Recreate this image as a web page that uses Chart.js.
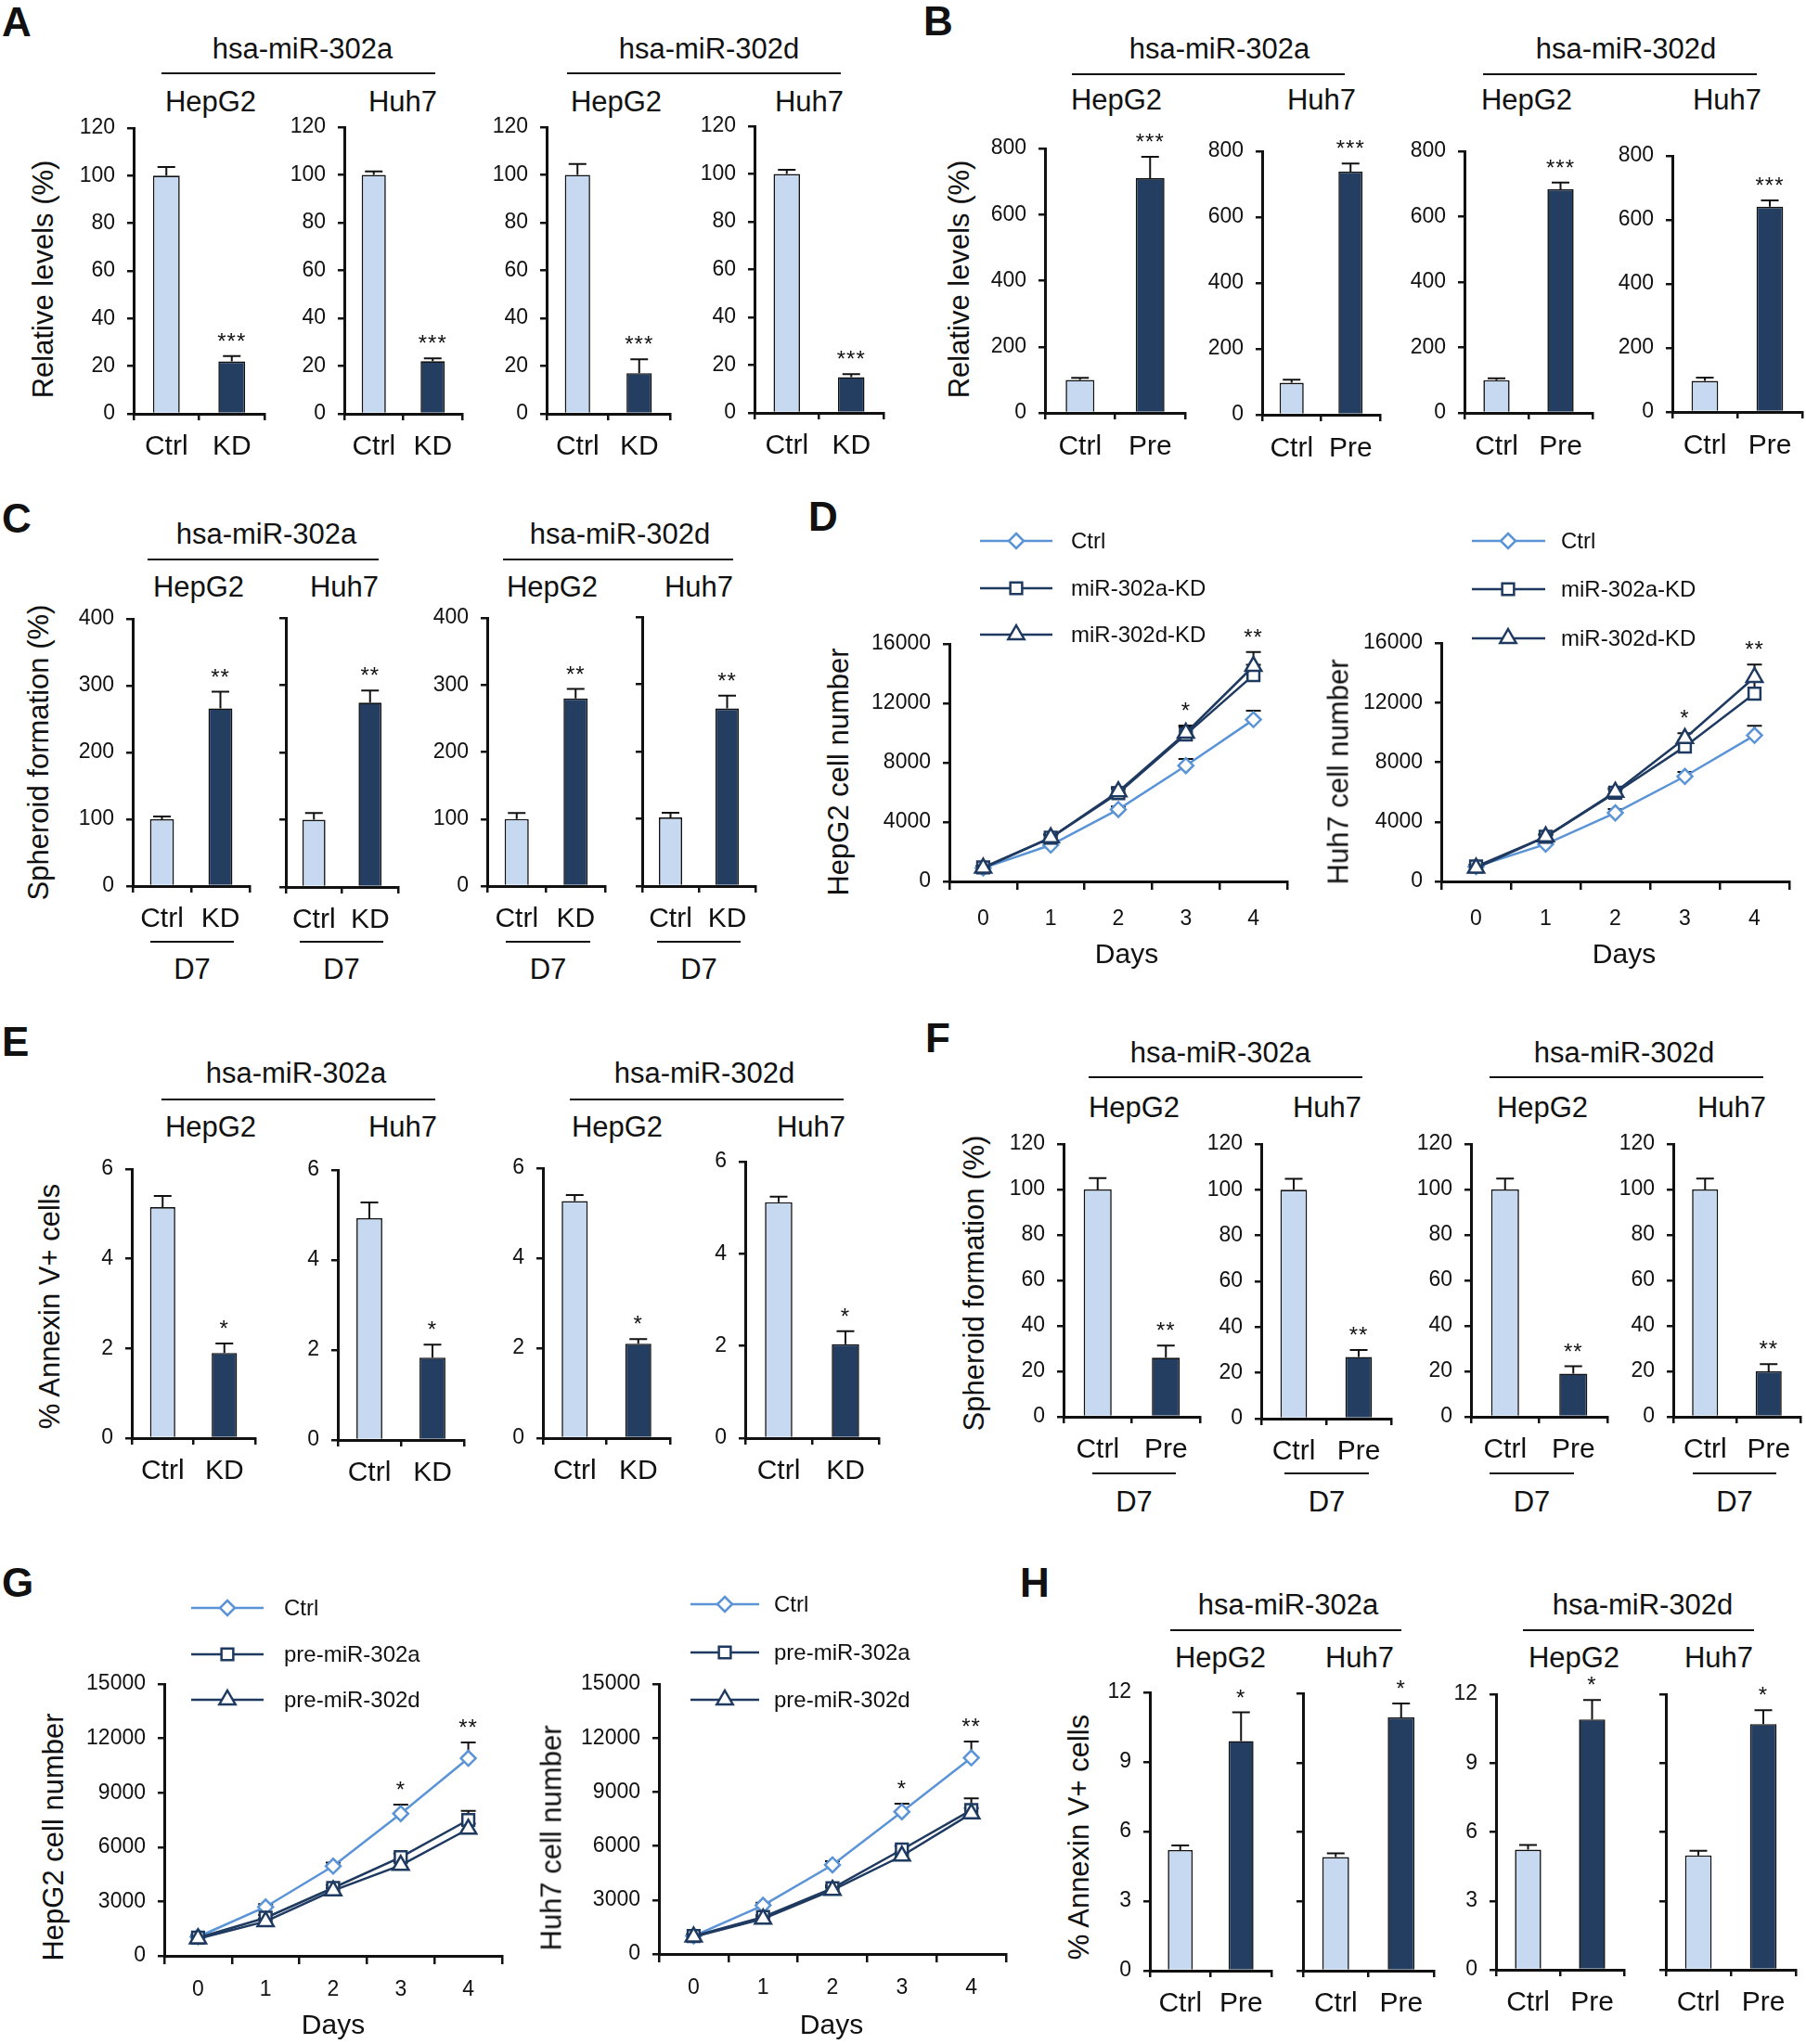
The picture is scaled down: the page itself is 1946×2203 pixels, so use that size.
<!DOCTYPE html>
<html>
<head>
<meta charset="utf-8">
<script src="https://cdn.jsdelivr.net/npm/chart.js@4.4.1/dist/chart.umd.min.js"></script>
<style>
  body { margin: 0; background: #fff; }
  #fig { position: relative; width: 1946px; height: 2203px; font-family: 'Liberation Sans', Arial, sans-serif; color: #111; overflow: hidden; }
  #fig div { position: absolute; white-space: nowrap; line-height: 1; }
  #fig canvas { position: absolute; }
</style>
</head>
<body>
<div id="fig"></div>
<script>
// ---- data ----
const kdLabels = ['Ctrl', 'KD'];
const preLabels = ['Ctrl', 'Pre'];
const dayLabels = ['0', '1', '2', '3', '4'];
const kdSeries = ['Ctrl', 'miR-302a-KD', 'miR-302d-KD'];
const preSeries = ['Ctrl', 'pre-miR-302a', 'pre-miR-302d'];

// bar panels, one [Ctrl, treated] pair per chart:
// 302a HepG2, 302a Huh7, 302d HepG2, 302d Huh7
const aMean = [[100, 22], [100, 22], [100, 17], [100, 15]];
const aErr = [[3.6, 2.3], [1.5, 1.2], [4.6, 5.8], [1.7, 1.2]];
const bMean = [[100, 710], [97, 738], [100, 684], [97, 641]];
const bErr = [[6, 65], [9, 25], [6, 20], [10, 20]];
const cMean = [[100, 266], [100, 274], [100, 280], [102, 264]];
const cErr = [[4, 25], [10, 18], [9, 14], [7, 19]];
const eMean = [[5.15, 1.9], [4.93, 1.83], [5.27, 2.1], [5.12, 2.04]];
const eErr = [[0.25, 0.21], [0.35, 0.29], [0.13, 0.1], [0.12, 0.28]];
const fMean = [[100, 26], [100, 27], [100, 19], [100, 20]];
const fErr = [[5, 5.3], [4.8, 3], [4.8, 3.2], [4.8, 3.2]];
const hMean = [[5.2, 9.9], [4.92, 10.96], [5.23, 10.9], [4.98, 10.7]];
const hErr = [[0.2, 1.24], [0.16, 0.6], [0.2, 0.85], [0.2, 0.6]];

// growth curves (cell number by day)
const dHep = [[900, 2450, 4850, 7800, 10900], [950, 2950, 5950, 9900, 13900], [900, 2950, 6050, 10000, 14500]];
const dHepErr = [[100, 150, 200, 450, 600], [100, 200, 300, 500, 700], [100, 200, 300, 500, 950]];
const dHuh = [[1000, 2500, 4600, 7050, 9800], [1000, 3000, 5950, 9050, 12600], [900, 3000, 6000, 9600, 13700]];
const dHuhErr = [[100, 150, 250, 300, 650], [100, 150, 250, 400, 800], [100, 150, 250, 350, 850]];
const gHep = [[1050, 2700, 4950, 7850, 10900], [1000, 2100, 3750, 5450, 7500], [950, 1900, 3600, 5000, 7000]];
const gHepErr = [[100, 150, 200, 500, 870], [100, 150, 150, 200, 500], [100, 150, 150, 200, 300]];
const gHuh = [[1000, 2700, 4950, 7900, 10900], [1000, 2050, 3650, 5800, 8000], [950, 1950, 3550, 5450, 7800]];
const gHuhErr = [[100, 150, 200, 450, 900], [100, 100, 150, 200, 650], [100, 100, 150, 200, 300]];

// ---- layout (page pixels: y axis x, x axis end, top of y axis, zero line) ----
const layA = [{x0:144,x1:285,y0:138,yb:446},{x0:371,x1:498,y0:137,yb:446},{x0:589,x1:722,y0:137,yb:446},{x0:813,x1:952,y0:136,yb:445}];
const layB = [{x0:1126,x1:1277,y0:160,yb:445},{x0:1360,x1:1487,y0:163,yb:447},{x0:1578,x1:1716,y0:163,yb:445},{x0:1802,x1:1942,y0:168,yb:444}];
const layC = [{x0:143,x1:269,y0:667,yb:955},{x0:308,x1:429,y0:666,yb:956,bare:true},{x0:525,x1:652,y0:666,yb:955},{x0:692,x1:814,y0:665,yb:955,bare:true}];
const layE = [{x0:142,x1:275,y0:1260,yb:1550},{x0:364,x1:500,y0:1261,yb:1552},{x0:585,x1:722,y0:1259,yb:1550},{x0:803,x1:947,y0:1252,yb:1550}];
const layF = [{x0:1146,x1:1293,y0:1233,yb:1527},{x0:1359,x1:1499,y0:1233,yb:1529},{x0:1585,x1:1732,y0:1233,yb:1527},{x0:1803,x1:1940,y0:1233,yb:1527}];
const layH = [{x0:1239,x1:1370,y0:1824,yb:2124},{x0:1404,x1:1545,y0:1825,yb:2124,bare:true},{x0:1612,x1:1750,y0:1826,yb:2123},{x0:1795,x1:1935,y0:1826,yb:2123,bare:true}];
const layD = [
  {x0:1023,x1:1387,y0:694,yb:950,xPad:18,leg:{l0:1056,l1:1134,m:1095,t:1154,rows:[583,634,684]}},
  {x0:1553,x1:1928,y0:693,yb:950,xPad:18,leg:{l0:1586,l1:1665,m:1625,t:1682,rows:[583,635,688]}}];
const layG = [
  {x0:177,x1:541,y0:1815,yb:2108,xPad:14,leg:{l0:206,l1:284,m:245,t:306,rows:[1733,1783,1832]}},
  {x0:710,x1:1084,y0:1815,yb:2106,xPad:14,leg:{l0:744,l1:818,m:781,t:834,rows:[1729,1781,1832]}}];

const LIGHT = '#c6d9f0', DARK = '#243e62', CTRL_LINE = '#5b94d6', KD_LINE = '#1f3a60';
const YW = 100, XH = 70, PR = 14, PT_BAR = 70, PT_LINE = 150;
Chart.defaults.font.family = "'Liberation Sans', Arial, sans-serif";

const fig = document.getElementById('fig');

function txt(s, x, base, size, align = 'center', bold = false) {
  const d = document.createElement('div');
  d.textContent = s;
  const tx = align === 'center' ? '-50%' : align === 'right' ? '-100%' : '0';
  d.style.cssText = `left:${x}px;top:${(base - 0.847 * size).toFixed(1)}px;font-size:${size}px;font-weight:${bold ? 700 : 400};transform:translateX(${tx})`;
  fig.appendChild(d);
}
function vtxt(s, cx, cy, size) {
  const d = document.createElement('div');
  d.textContent = s;
  d.style.cssText = `left:${cx}px;top:${cy}px;font-size:${size}px;transform:translate(-50%,-50%) rotate(-90deg)`;
  fig.appendChild(d);
}
function hline(x1, x2, y, w = 2) {
  const d = document.createElement('div');
  d.style.cssText = `left:${x1}px;top:${y - w / 2}px;width:${x2 - x1}px;height:${w}px;background:#111`;
  fig.appendChild(d);
}
function makeCanvas(left, top, w, h) {
  const cv = document.createElement('canvas');
  cv.width = w; cv.height = h;
  cv.style.cssText = `left:${left}px;top:${top}px;width:${w}px;height:${h}px`;
  fig.appendChild(cv);
  return cv;
}

// upward error bars and significance stars
function errorBarPlugin(cap, stars) {
  return {
    id: 'errorBars',
    beforeDatasetsDraw(chart) {
      const ctx = chart.ctx, y = chart.scales.y, tops = [];
      ctx.save();
      ctx.strokeStyle = '#111';
      ctx.lineWidth = 2;
      chart.data.datasets.forEach((ds, di) => {
        const meta = chart.getDatasetMeta(di);
        ds.data.forEach((v, i) => {
          const px = meta.data[i].x, py = y.getPixelForValue(v), pt = y.getPixelForValue(v + ds.errors[i]);
          tops[i] = Math.min(tops[i] === undefined ? Infinity : tops[i], pt);
          ctx.beginPath();
          ctx.moveTo(px, py); ctx.lineTo(px, pt);
          ctx.moveTo(px - cap, pt); ctx.lineTo(px + cap, pt);
          ctx.stroke();
        });
      });
      ctx.fillStyle = '#111';
      ctx.font = "24px 'Liberation Sans', Arial";
      ctx.textAlign = 'center';
      ctx.textBaseline = 'middle';
      if ('letterSpacing' in ctx) ctx.letterSpacing = '1px';
      const m0 = chart.getDatasetMeta(0);
      stars.forEach(s => ctx.fillText(s.text, m0.data[s.i].x, tops[s.i] - 14.5));
      ctx.restore();
    }
  };
}

function marker(ctx, style, x, y, r) {
  ctx.beginPath();
  if (style === 'rectRot') {
    ctx.moveTo(x, y - r); ctx.lineTo(x + r, y); ctx.lineTo(x, y + r); ctx.lineTo(x - r, y); ctx.closePath();
  } else if (style === 'rect') {
    const s = r * Math.SQRT1_2;
    ctx.rect(x - s, y - s, 2 * s, 2 * s);
  } else {
    ctx.moveTo(x, y - r); ctx.lineTo(x + 0.866 * r, y + 0.5 * r); ctx.lineTo(x - 0.866 * r, y + 0.5 * r); ctx.closePath();
  }
  ctx.fill(); ctx.stroke();
}

function legendPlugin(leg, ox, oy) {
  return {
    id: 'lineLegend',
    afterDraw(chart) {
      const ctx = chart.ctx;
      ctx.save();
      chart.data.datasets.forEach((ds, k) => {
        const yy = leg.rows[k] - oy;
        ctx.strokeStyle = ds.borderColor;
        ctx.lineWidth = ds.borderWidth;
        ctx.beginPath();
        ctx.moveTo(leg.l0 - ox, yy); ctx.lineTo(leg.l1 - ox, yy);
        ctx.stroke();
        ctx.fillStyle = '#fff';
        ctx.lineWidth = ds.pointBorderWidth;
        marker(ctx, ds.pointStyle, leg.m - ox, yy, ds.pointRadius);
      });
      ctx.restore();
    }
  };
}

function xScale(size, tick, pad) {
  return {
    offset: true,
    grid: { display: true, drawOnChartArea: false, offset: true, tickLength: tick, color: '#111', lineWidth: 2.5 },
    border: { display: true, color: '#111', width: 3 },
    ticks: { color: '#111', font: { size }, padding: pad, maxRotation: 0, autoSkip: false },
    afterFit(s) { s.height = XH; }
  };
}
function yScale(max, step, bare, size) {
  return {
    min: 0, max,
    grid: { drawOnChartArea: false, tickLength: 7, color: '#111', lineWidth: 2.5 },
    border: { display: true, color: '#111', width: 3 },
    ticks: { stepSize: step, color: '#111', font: { size }, padding: 13, callback: v => bare ? '' : String(v) },
    afterFit(s) { s.width = YW; }
  };
}

function barChart(b, labels, mean, err, star, max, step, xPad) {
  const W = YW + (b.x1 - b.x0) + PR, H = PT_BAR + (b.yb - b.y0) + XH;
  const cv = makeCanvas(b.x0 - YW, b.y0 - PT_BAR, W, H);
  new Chart(cv, {
    type: 'bar',
    data: {
      labels,
      datasets: [{ data: mean, errors: err, backgroundColor: [LIGHT, DARK], borderColor: '#111',
        borderWidth: 1.6, barPercentage: 0.41, categoryPercentage: 1 }]
    },
    options: {
      responsive: false, animation: false, events: [],
      layout: { padding: { top: PT_BAR, right: PR, bottom: 0, left: 0 } },
      plugins: { legend: { display: false }, tooltip: { enabled: false } },
      scales: { x: xScale(30, 7, xPad), y: yScale(max, step, b.bare, 23) }
    },
    plugins: [errorBarPlugin(9.5, [{ i: 1, text: star }])]
  });
}
function barPanel(lay, labels, means, errs, star, max, step, xPad) {
  lay.forEach((b, k) => barChart(b, labels, means[k], errs[k], star, max, step, xPad));
}

function lineChart(b, names, series, errs, max, step, legSize) {
  const W = YW + (b.x1 - b.x0) + PR, H = PT_LINE + (b.yb - b.y0) + XH;
  const left = b.x0 - YW, top = b.y0 - PT_LINE;
  const cv = makeCanvas(left, top, W, H);
  const styles = [
    { color: CTRL_LINE, point: 'rectRot', r: 8 },
    { color: KD_LINE, point: 'rect', r: 9 },
    { color: KD_LINE, point: 'triangle', r: 10 }];
  const datasets = series.map((d, k) => ({
    label: names[k], data: d, errors: errs[k],
    borderColor: styles[k].color, borderWidth: 2.5,
    pointStyle: styles[k].point, pointRadius: styles[k].r, pointBorderWidth: 2.5,
    pointBorderColor: styles[k].color, pointBackgroundColor: '#fff',
    tension: 0, order: 3 - k
  }));
  new Chart(cv, {
    type: 'line',
    data: { labels: dayLabels, datasets },
    options: {
      responsive: false, animation: false, events: [],
      layout: { padding: { top: PT_LINE, right: PR, bottom: 0, left: 0 } },
      plugins: { legend: { display: false }, tooltip: { enabled: false } },
      scales: { x: xScale(23, 9, b.xPad), y: yScale(max, step, false, 23) }
    },
    plugins: [errorBarPlugin(8, [{ i: 3, text: '*' }, { i: 4, text: '**' }]), legendPlugin(b.leg, left, top)]
  });
  names.forEach((n, k) => txt(n, b.leg.t, b.leg.rows[k] + 0.36 * legSize, legSize, 'left'));
}

// ---- panel A ----
txt('A', 2, 39, 44, 'left', true);
txt('hsa-miR-302a', 326, 63, 31); hline(174, 469, 79);
txt('hsa-miR-302d', 764, 63, 31); hline(611, 906, 79);
[227, 434, 664, 872].forEach((x, k) => txt(k % 2 ? 'Huh7' : 'HepG2', x, 120, 31));
vtxt('Relative levels (%)', 46, 301, 31);
barPanel(layA, kdLabels, aMean, aErr, '***', 120, 20, 10.6);

// ---- panel B ----
txt('B', 995, 38, 44, 'left', true);
txt('hsa-miR-302a', 1314, 63, 31); hline(1155, 1449, 80);
txt('hsa-miR-302d', 1752, 63, 31); hline(1598, 1893, 80);
[1203, 1424, 1645, 1861].forEach((x, k) => txt(k % 2 ? 'Huh7' : 'HepG2', x, 118, 31));
vtxt('Relative levels (%)', 1033, 301, 31);
barPanel(layB, preLabels, bMean, bErr, '***', 800, 200, 11.5);

// ---- panel C ----
txt('C', 2, 574, 44, 'left', true);
txt('hsa-miR-302a', 287, 586, 31); hline(159, 408, 603);
txt('hsa-miR-302d', 668, 586, 31); hline(542, 790, 603);
[214, 371, 595, 753].forEach((x, k) => txt(k % 2 ? 'Huh7' : 'HepG2', x, 643, 31));
[[162, 252], [323, 413], [545, 636], [708, 798]].forEach(([a, c]) => { hline(a, c, 1015); txt('D7', (a + c) / 2, 1055, 31); });
vtxt('Spheroid formation (%)', 41, 811, 31);
barPanel(layC, kdLabels, cMean, cErr, '**', 400, 100, 10.6);

// ---- panel D ----
txt('D', 871, 572, 44, 'left', true);
lineChart(layD[0], kdSeries, dHep, dHepErr, 16000, 4000, 24);
lineChart(layD[1], kdSeries, dHuh, dHuhErr, 16000, 4000, 24);
txt('Days', 1214, 1038, 30); txt('Days', 1750, 1038, 30);
vtxt('HepG2 cell number', 903, 832, 31);
vtxt('Huh7 cell number', 1442, 832, 31);

// ---- panel E ----
txt('E', 2, 1138, 44, 'left', true);
txt('hsa-miR-302a', 319, 1167, 31); hline(174, 469, 1185);
txt('hsa-miR-302d', 759, 1167, 31); hline(614, 909, 1185);
[227, 434, 665, 874].forEach((x, k) => txt(k % 2 ? 'Huh7' : 'HepG2', x, 1225, 31));
vtxt('% Annexin V+ cells', 53, 1408, 31);
barPanel(layE, kdLabels, eMean, eErr, '*', 6, 2, 10.6);

// ---- panel F ----
txt('F', 997, 1134, 44, 'left', true);
txt('hsa-miR-302a', 1315, 1145, 31); hline(1173, 1468, 1161);
txt('hsa-miR-302d', 1750, 1145, 31); hline(1605, 1900, 1161);
[1222, 1430, 1662, 1866].forEach((x, k) => txt(k % 2 ? 'Huh7' : 'HepG2', x, 1204, 31));
[[1177, 1267], [1384, 1475], [1605, 1696], [1824, 1914]].forEach(([a, c]) => { hline(a, c, 1588); txt('D7', (a + c) / 2, 1629, 31); });
vtxt('Spheroid formation (%)', 1049, 1383, 31);
barPanel(layF, preLabels, fMean, fErr, '**', 120, 20, 10.6);

// ---- panel G ----
txt('G', 2, 1721, 44, 'left', true);
lineChart(layG[0], preSeries, gHep, gHepErr, 15000, 3000, 24);
lineChart(layG[1], preSeries, gHuh, gHuhErr, 15000, 3000, 24);
txt('Days', 359, 2192, 30); txt('Days', 896, 2192, 30);
vtxt('HepG2 cell number', 57, 1980, 31);
vtxt('Huh7 cell number', 594, 1981, 31);

// ---- panel H ----
txt('H', 1099, 1721, 44, 'left', true);
txt('hsa-miR-302a', 1388, 1740, 31); hline(1261, 1510, 1757);
txt('hsa-miR-302d', 1770, 1740, 31); hline(1641, 1890, 1757);
[1315, 1465, 1696, 1852].forEach((x, k) => txt(k % 2 ? 'Huh7' : 'HepG2', x, 1797, 31));
vtxt('% Annexin V+ cells', 1162, 1980, 31);
barPanel(layH, preLabels, hMean, hErr, '*', 12, 3, 10.6);
</script>
</body>
</html>
